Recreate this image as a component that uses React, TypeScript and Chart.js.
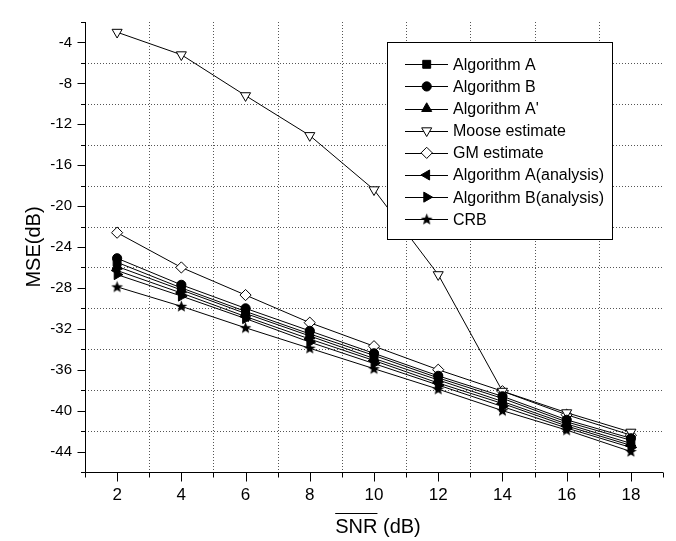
import React, { useEffect, useRef } from 'react';
import { Chart, registerables } from 'chart.js';

Chart.register(...registerables);

// ---- data ----
const snr = [2, 4, 6, 8, 10, 12, 14, 16, 18];
const algorithmA = [-25.5, -28.0, -30.3, -32.5, -34.6, -36.8, -38.8, -41.1, -42.9];
const algorithmB = [-25.1, -27.7, -30.0, -32.2, -34.4, -36.6, -38.6, -40.9, -42.7];
const algorithmA2 = [-25.9, -28.2, -30.5, -32.7, -34.9, -37.0, -39.1, -41.3, -43.2];
const mooseEstimate = [-3.0, -5.2, -9.2, -13.1, -18.4, -26.7, -38.1, -40.2, -42.1];
const gmEstimate = [-22.6, -26.0, -28.7, -31.4, -33.7, -36.0, -38.1, -40.4, -42.4];
const algorithmAAnalysis = [-26.3, -28.5, -30.8, -33.0, -35.1, -37.3, -39.3, -41.5, -43.4];
const algorithmBAnalysis = [-26.7, -28.8, -31.0, -33.3, -35.4, -37.5, -39.6, -41.7, -43.6];
const crb = [-27.9, -29.8, -31.9, -33.9, -35.9, -37.9, -40.0, -41.9, -44.0];

const seriesNames = [
  'Algorithm A',
  'Algorithm B',
  "Algorithm A'",
  'Moose estimate',
  'GM estimate',
  'Algorithm A(analysis)',
  'Algorithm B(analysis)',
  'CRB',
];

// axis ticks
const xMin = 1;
const xMax = 19;
const yMin = -46;
const yMax = -2;
const xTickValues = [1, 2, 3, 4, 5, 6, 7, 8, 9, 10, 11, 12, 13, 14, 15, 16, 17, 18, 19];
const xGridValues = [3, 5, 7, 9, 11, 13, 15, 17];
const yTickValues = [-46, -44, -42, -40, -38, -36, -34, -32, -30, -28, -26, -24, -22, -20, -18, -16, -14, -12, -10, -8, -6, -4, -2];
const yGridValues = [-42, -38, -34, -30, -26, -22, -18, -14, -10, -6];

const FONT = '"Liberation Sans", Arial, Helvetica, sans-serif';

function makeStar(): HTMLCanvasElement {
  const c = document.createElement('canvas');
  c.width = 13;
  c.height = 13;
  const g = c.getContext('2d')!;
  const cx = 6.5, cy = 6.8, ro = 6.2, ri = 2.6;
  g.beginPath();
  for (let i = 0; i < 10; i++) {
    const r = i % 2 === 0 ? ro : ri;
    const a = -Math.PI / 2 + (i * Math.PI) / 5;
    const px = cx + Math.cos(a) * r;
    const py = cy + Math.sin(a) * r;
    if (i === 0) g.moveTo(px, py);
    else g.lineTo(px, py);
  }
  g.closePath();
  g.fillStyle = '#000';
  g.fill();
  return c;
}

type Marker = { style: any; rotation: number; radius: number; fill: string };

function drawMarker(ctx: CanvasRenderingContext2D, m: Marker, x: number, y: number) {
  ctx.save();
  ctx.fillStyle = m.fill;
  ctx.strokeStyle = '#000';
  ctx.lineWidth = 1;
  ctx.setLineDash([]);
  const r = m.radius;
  let rad = (m.rotation * Math.PI) / 180;
  if (typeof m.style !== 'string') {
    ctx.drawImage(m.style, x - m.style.width / 2, y - m.style.height / 2);
    ctx.restore();
    return;
  }
  ctx.beginPath();
  if (m.style === 'circle') {
    ctx.arc(x, y, r, 0, Math.PI * 2);
  } else if (m.style === 'rect') {
    const s = Math.SQRT1_2 * r;
    ctx.rect(x - s, y - s, 2 * s, 2 * s);
  } else if (m.style === 'triangle') {
    ctx.moveTo(x + Math.sin(rad) * r, y - Math.cos(rad) * r);
    rad += (2 * Math.PI) / 3;
    ctx.lineTo(x + Math.sin(rad) * r, y - Math.cos(rad) * r);
    rad += (2 * Math.PI) / 3;
    ctx.lineTo(x + Math.sin(rad) * r, y - Math.cos(rad) * r);
  } else if (m.style === 'rectRot') {
    ctx.moveTo(x, y - r);
    ctx.lineTo(x + r, y);
    ctx.lineTo(x, y + r);
    ctx.lineTo(x - r, y);
  }
  ctx.closePath();
  ctx.fill();
  ctx.stroke();
  ctx.restore();
}

export default function App() {
  const ref = useRef<HTMLCanvasElement>(null);

  useEffect(() => {
    if (!ref.current) return;
    const star = makeStar();
    const values = [
      algorithmA,
      algorithmB,
      algorithmA2,
      mooseEstimate,
      gmEstimate,
      algorithmAAnalysis,
      algorithmBAnalysis,
      crb,
    ];
    const markers: Marker[] = [
      { style: 'rect', rotation: 0, radius: 5.6, fill: '#000' },
      { style: 'circle', rotation: 0, radius: 4.6, fill: '#000' },
      { style: 'triangle', rotation: 0, radius: 5.8, fill: '#000' },
      { style: 'triangle', rotation: 180, radius: 5.8, fill: '#fff' },
      { style: 'rectRot', rotation: 0, radius: 5.6, fill: '#fff' },
      { style: 'triangle', rotation: -90, radius: 5.8, fill: '#000' },
      { style: 'triangle', rotation: 90, radius: 5.8, fill: '#000' },
      { style: star, rotation: 0, radius: 6, fill: '#000' },
    ];

    const datasets = values.map((arr, i) => ({
      label: seriesNames[i],
      data: snr.map((x, j) => ({ x, y: arr[j] })),
      borderColor: '#000',
      borderWidth: 1,
      backgroundColor: markers[i].fill,
      pointStyle: markers[i].style,
      rotation: markers[i].rotation,
      pointRadius: markers[i].radius,
      pointBackgroundColor: markers[i].fill,
      pointBorderColor: '#000',
      pointBorderWidth: 1,
      tension: 0,
      fill: false,
    }));

    const decor = {
      id: 'decor',
      beforeDatasetsDraw(chart: any) {
        const { ctx, chartArea: a, scales } = chart;
        const xs = scales.x, ys = scales.y;
        ctx.save();
        ctx.strokeStyle = '#555';
        ctx.lineWidth = 1;
        ctx.setLineDash([1, 2]);
        for (const v of xGridValues) {
          const px = Math.round(xs.getPixelForValue(v)) + 0.5;
          ctx.beginPath();
          ctx.moveTo(px, a.top);
          ctx.lineTo(px, a.bottom);
          ctx.stroke();
        }
        for (const v of yGridValues) {
          const py = Math.round(ys.getPixelForValue(v)) + 0.5;
          ctx.beginPath();
          ctx.moveTo(a.left, py);
          ctx.lineTo(a.right, py);
          ctx.stroke();
        }
        ctx.restore();
      },
      afterDatasetsDraw(chart: any) {
        const { ctx, chartArea: a, scales } = chart;
        const xs = scales.x, ys = scales.y;
        ctx.save();
        ctx.setLineDash([]);
        ctx.strokeStyle = '#000';
        ctx.lineWidth = 1;
        const left = Math.round(a.left) + 0.5;
        const bottom = Math.round(a.bottom) + 0.5;
        // axes
        ctx.beginPath();
        ctx.moveTo(left, a.top);
        ctx.lineTo(left, bottom);
        ctx.lineTo(a.right, bottom);
        ctx.stroke();
        // y ticks
        for (const v of yTickValues) {
          const py = Math.round(ys.getPixelForValue(v)) + 0.5;
          const len = v % 4 === 0 ? 8 : 4.5;
          ctx.beginPath();
          ctx.moveTo(left - len, py);
          ctx.lineTo(left, py);
          ctx.stroke();
        }
        // x ticks
        for (const v of xTickValues) {
          const px = Math.round(xs.getPixelForValue(v)) + 0.5;
          const len = v % 2 === 0 ? 9 : 5;
          ctx.beginPath();
          ctx.moveTo(px, bottom);
          ctx.lineTo(px, bottom + len);
          ctx.stroke();
        }
        // axis titles
        ctx.fillStyle = '#000';
        ctx.font = `20px ${FONT}`;
        ctx.textBaseline = 'middle';
        const title = 'SNR (dB)';
        const tw = ctx.measureText(title).width;
        const sw = ctx.measureText('SNR').width;
        const cx = (a.left + a.right) / 2 + 4;
        const tx = cx - tw / 2;
        const ty = 527;
        ctx.textAlign = 'left';
        ctx.fillText(title, tx, ty);
        ctx.beginPath();
        ctx.moveTo(tx, 513.5);
        ctx.lineTo(tx + sw, 513.5);
        ctx.stroke();

        ctx.save();
        ctx.translate(34, (a.top + a.bottom) / 2);
        ctx.rotate(-Math.PI / 2);
        ctx.textAlign = 'center';
        ctx.fillText('MSE(dB)', 0, 0);
        ctx.restore();
        ctx.restore();
      },
      afterDraw(chart: any) {
        const { ctx } = chart;
        ctx.save();
        ctx.setLineDash([]);
        ctx.fillStyle = '#fff';
        ctx.fillRect(387, 42, 226, 198);
        ctx.strokeStyle = '#000';
        ctx.lineWidth = 1;
        ctx.strokeRect(387.5, 42.5, 225, 197);
        ctx.font = `16px ${FONT}`;
        ctx.textBaseline = 'middle';
        ctx.textAlign = 'left';
        seriesNames.forEach((name, i) => {
          const y = 64.3 + i * 22.14;
          const yl = Math.round(y) + 0.5;
          ctx.strokeStyle = '#000';
          ctx.beginPath();
          ctx.moveTo(405, yl);
          ctx.lineTo(448, yl);
          ctx.stroke();
          drawMarker(ctx, markers[i], 426.7, y);
          ctx.fillStyle = '#000';
          ctx.fillText(name, 453, y + 1);
        });
        ctx.restore();
      },
    };

    const chart = new Chart(ref.current, {
      type: 'line',
      data: { datasets: datasets as any },
      options: {
        responsive: false,
        animation: false,
        layout: { padding: { top: 10, right: 10, left: 0, bottom: 0 } },
        plugins: {
          legend: { display: false },
          tooltip: { enabled: false },
        },
        scales: {
          x: {
            type: 'linear',
            min: xMin,
            max: xMax,
            grid: { display: false, drawTicks: false },
            border: { display: false },
            ticks: {
              stepSize: 1,
              autoSkip: false,
              maxRotation: 0,
              padding: 13,
              color: '#000',
              font: { family: FONT, size: 17 },
              callback: (v: any) => (Math.round(v) % 2 === 0 ? String(Math.round(v)) : ''),
            },
            afterFit: (s: any) => {
              s.height = 69;
            },
          },
          y: {
            type: 'linear',
            min: yMin,
            max: yMax,
            grid: { display: false, drawTicks: false },
            border: { display: false },
            ticks: {
              stepSize: 2,
              autoSkip: false,
              padding: 13,
              color: '#000',
              font: { family: FONT, size: 15 },
              callback: (v: any) => (Math.round(v) % 4 === 0 ? String(Math.round(v)) : ''),
            },
            afterFit: (s: any) => {
              s.width = 85;
            },
          },
        },
      } as any,
      plugins: [decor],
    });
    return () => chart.destroy();
  }, []);

  return (
    <div style={{ position: 'fixed', left: 0, top: 0, width: 676, height: 541, background: '#fff' }}>
      <canvas ref={ref} width={676} height={541} style={{ display: 'block' }} />
    </div>
  );
}
